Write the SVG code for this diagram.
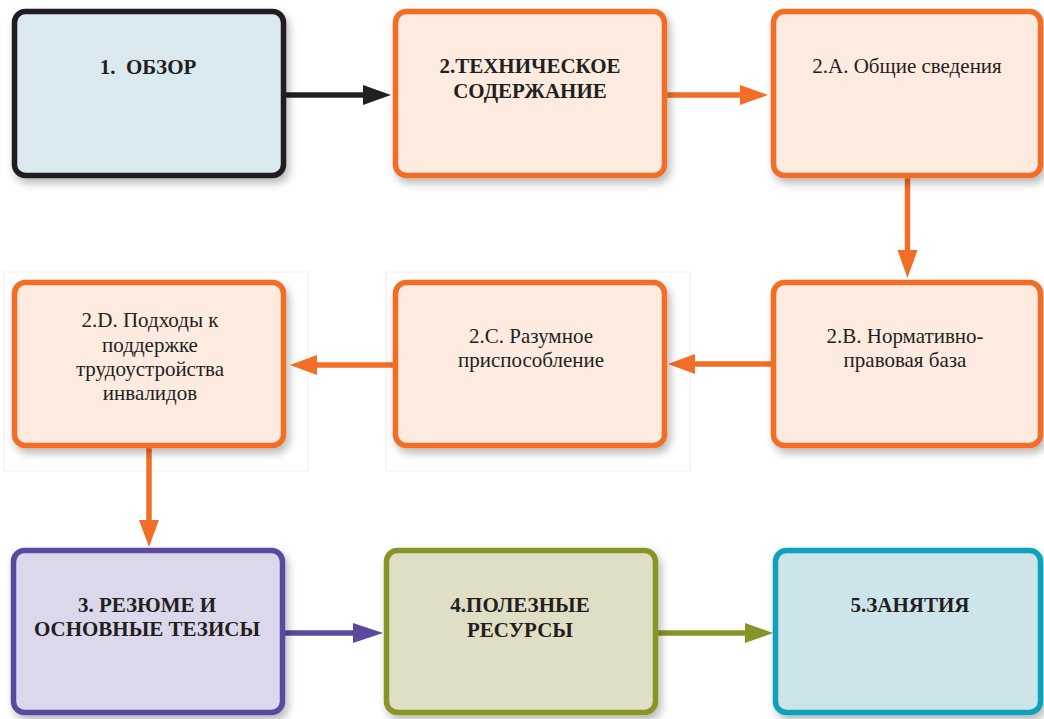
<svg xmlns="http://www.w3.org/2000/svg" width="1044" height="719" viewBox="0 0 1044 719">
<style>
.box{stroke-width:5.5}
.t{font-family:'Liberation Serif','Times New Roman','DejaVu Serif',serif;fill:#231f20;text-anchor:middle;font-size:21px}
.b{font-weight:bold}
.or{fill:#fdebdf;stroke:#f26e27}
.ln{fill:none;stroke-width:5.5}
</style>
<defs>
<filter id="sh" x="-10%" y="-10%" width="130%" height="140%">
<feDropShadow dx="3" dy="5" stdDeviation="4" flood-color="#000" flood-opacity="0.28"/>
</filter>
</defs>
<rect x="4" y="272" width="304" height="199" fill="none" stroke="#eeeeee" stroke-width="1"/>
<rect x="386" y="272" width="304" height="199" fill="none" stroke="#eeeeee" stroke-width="1"/>
<g id="connectors">
<path class="ln" stroke="#231f20" d="M286 95H366"/>
<path fill="#231f20" d="M363 85L391 95L363 105Z"/>
<path class="ln" stroke="#f26e27" d="M667 95H743"/>
<path fill="#f26e27" d="M740 85L768 95L740 105Z"/>
<path class="ln" stroke="#f26e27" d="M907.5 178V253"/>
<path fill="#f26e27" d="M897.5 250L907.5 278L917.5 250Z"/>
<path class="ln" stroke="#f26e27" d="M771 364H692"/>
<path fill="#f26e27" d="M695 354L668 364L695 374Z"/>
<path class="ln" stroke="#f26e27" d="M393 365H314"/>
<path fill="#f26e27" d="M317 355L290 365L317 375Z"/>
<path class="ln" stroke="#f26e27" d="M149 448V523"/>
<path fill="#f26e27" d="M139 520L149 547L159 520Z"/>
<path class="ln" stroke="#5a4a9f" d="M285 633H356"/>
<path fill="#5a4a9f" d="M353 623L383 633L353 643Z"/>
<path class="ln" stroke="#8a9328" d="M657 633H748"/>
<path fill="#8a9328" d="M745 623L773 633L745 643Z"/>
</g>
<g id="n1">
<rect class="box" x="14.5" y="11.5" width="269" height="164" rx="11" fill="#dae9f0" stroke="#231f20" filter="url(#sh)"/>
<text class="t b" x="148" y="74" xml:space="preserve">1.  ОБЗОР</text>
</g>
<g id="n2">
<rect class="box or" x="395.5" y="11.5" width="269" height="164" rx="11" filter="url(#sh)"/>
<text class="t b" x="530" y="73">2.ТЕХНИЧЕСКОЕ</text>
<text class="t b" x="530" y="98">СОДЕРЖАНИЕ</text>
</g>
<g id="n2a">
<rect class="box or" x="773.5" y="11.5" width="267" height="164" rx="11" filter="url(#sh)"/>
<text class="t" x="907" y="73">2.A. Общие сведения</text>
</g>
<g id="n2b">
<rect class="box or" x="773.5" y="282.5" width="267" height="163" rx="11" filter="url(#sh)"/>
<text class="t" x="905" y="343">2.B. Нормативно-</text>
<text class="t" x="905" y="367">правовая база</text>
</g>
<g id="n2c">
<rect class="box or" x="395.5" y="282.5" width="269" height="163" rx="11" filter="url(#sh)"/>
<text class="t" x="531" y="343">2.C. Разумное</text>
<text class="t" x="531" y="367">приспособление</text>
</g>
<g id="n2d">
<rect class="box or" x="14.5" y="282.5" width="269" height="163" rx="11" filter="url(#sh)"/>
<text class="t" x="150" y="327">2.D. Подходы к</text>
<text class="t" x="150" y="352">поддержке</text>
<text class="t" x="150" y="376">трудоустройства</text>
<text class="t" x="150" y="400">инвалидов</text>
</g>
<g id="n3">
<rect class="box" x="13.5" y="550.5" width="269" height="162" rx="11" fill="#dcd8ec" stroke="#5a4a9f" filter="url(#sh)"/>
<text class="t b" x="147" y="612">3. РЕЗЮМЕ И</text>
<text class="t b" x="147" y="636">ОСНОВНЫЕ ТЕЗИСЫ</text>
</g>
<g id="n4">
<rect class="box" x="386.5" y="550.5" width="269" height="162" rx="11" fill="#e0dfc6" stroke="#8a9328" filter="url(#sh)"/>
<text class="t b" x="520" y="612">4.ПОЛЕЗНЫЕ</text>
<text class="t b" x="520" y="637">РЕСУРСЫ</text>
</g>
<g id="n5">
<rect class="box" x="775.5" y="550.5" width="265" height="162" rx="11" fill="#cde4ea" stroke="#0aa1bb" filter="url(#sh)"/>
<text class="t b" x="910" y="612">5.ЗАНЯТИЯ</text>
</g>
</svg>
